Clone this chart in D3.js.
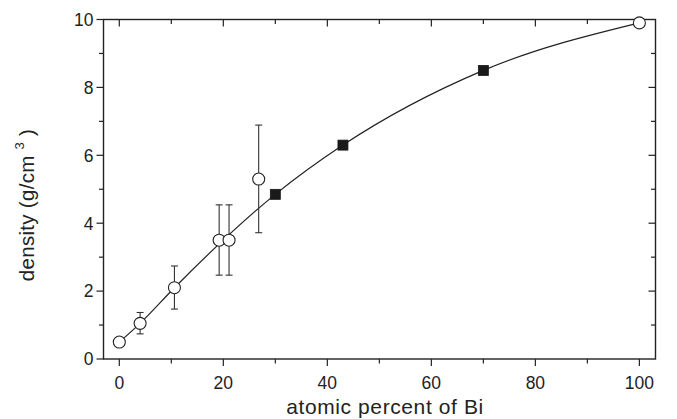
<!DOCTYPE html>
<html>
<head>
<meta charset="utf-8">
<script src="https://cdn.jsdelivr.net/npm/d3@7"></script>
<style>
  html, body { margin: 0; padding: 0; background: #fff; }
  svg { display: block; font-family: "Liberation Sans", Arial, Helvetica, sans-serif; }
</style>
</head>
<body>
<svg id="chart" width="677" height="419"></svg>
<script>
// Measured densities (open circles) with error-bar limits
const openX = [0, 4, 10.6, 19.2, 21.1, 26.8, 100];
const openY = [0.5, 1.05, 2.1, 3.5, 3.5, 5.3, 9.9];
const errLow = [null, 0.74, 1.47, 2.47, 2.47, 3.72, null];
const errHigh = [null, 1.37, 2.74, 4.54, 4.54, 6.89, null];

// Additional compositions (filled squares)
const squareX = [30, 43, 70];
const squareY = [4.85, 6.3, 8.5];

// Points the smooth guide curve passes through
const curveX = [0, 4, 10.6, 30, 43, 70, 100];
const curveY = [0.5, 1.05, 2.1, 4.85, 6.3, 8.5, 9.9];

// Axis ticks
const xMajorTicks = [0, 20, 40, 60, 80, 100];
const xMinorTicks = [10, 30, 50, 70, 90];
const yMajorTicks = [0, 2, 4, 6, 8, 10];
const yMinorTicks = [1, 3, 5, 7, 9];

const xTitle = "atomic percent of Bi";

(function () {
  const svg = d3.select("#chart");
  const pl = 103.5, pr = 655.5, pt = 19.5, pb = 359;

  const x = d3.scaleLinear().domain([-3.04, 103.1]).range([pl, pr]);
  const y = d3.scaleLinear().domain([0, 10]).range([pb, pt]);

  const ink = "#222";
  const majorLen = 7, minorLen = 4.5;

  // Frame
  svg.append("rect")
    .attr("x", pl).attr("y", pt)
    .attr("width", pr - pl).attr("height", pb - pt)
    .attr("fill", "none").attr("stroke", ink).attr("stroke-width", 1.4);

  // Ticks: bottom & left point outward, top & right point inward
  const ticks = svg.append("g").attr("stroke", ink).attr("stroke-width", 1.2);
  function xTick(v, len) {
    ticks.append("line").attr("x1", x(v)).attr("x2", x(v)).attr("y1", pb).attr("y2", pb + len);
    ticks.append("line").attr("x1", x(v)).attr("x2", x(v)).attr("y1", pt).attr("y2", pt + len);
  }
  function yTick(v, len) {
    ticks.append("line").attr("y1", y(v)).attr("y2", y(v)).attr("x1", pl).attr("x2", pl - len);
    ticks.append("line").attr("y1", y(v)).attr("y2", y(v)).attr("x1", pr).attr("x2", pr - len);
  }
  xMajorTicks.forEach(v => xTick(v, majorLen));
  xMinorTicks.forEach(v => xTick(v, minorLen));
  yMajorTicks.filter(v => v > 0 && v < 10).forEach(v => yTick(v, majorLen));
  yMinorTicks.forEach(v => yTick(v, minorLen));
  // y ticks at 0 and 10 sit on the frame corners (left side only)
  [0, 10].forEach(v => ticks.append("line").attr("y1", y(v)).attr("y2", y(v)).attr("x1", pl).attr("x2", pl - majorLen));

  // Tick labels
  const labelSize = 17.5;
  svg.append("g").selectAll("text").data(xMajorTicks).join("text")
    .attr("x", d => x(d)).attr("y", pb + 30)
    .attr("text-anchor", "middle").attr("font-size", labelSize).attr("fill", ink)
    .text(d => d);
  svg.append("g").selectAll("text").data(yMajorTicks).join("text")
    .attr("x", pl - 10).attr("y", d => y(d)).attr("dy", "0.36em")
    .attr("text-anchor", "end").attr("font-size", labelSize).attr("fill", ink)
    .text(d => d);

  // Axis titles
  svg.append("text")
    .attr("x", 385).attr("y", 414)
    .attr("text-anchor", "middle").attr("font-size", 21).attr("letter-spacing", 0.6)
    .attr("fill", ink)
    .text(xTitle);

  const yt = svg.append("text")
    .attr("transform", "translate(34,205) rotate(-90)")
    .attr("text-anchor", "middle").attr("font-size", 20.5).attr("letter-spacing", 0.3)
    .attr("fill", ink);
  yt.append("tspan").text("density (g/cm ");
  yt.append("tspan").attr("font-size", 13).attr("dy", -10).text("3");
  yt.append("tspan").attr("dy", 10).text(" )");

  // Guide curve
  const pts = curveX.map((v, i) => [v, curveY[i]]);
  svg.append("path")
    .attr("d", d3.line().x(d => x(d[0])).y(d => y(d[1])).curve(d3.curveMonotoneX)(pts))
    .attr("fill", "none").attr("stroke", ink).attr("stroke-width", 1.2);

  // Error bars
  const eb = svg.append("g").attr("stroke", "#333").attr("stroke-width", 1.1);
  const cap = 3.5;
  openX.forEach((v, i) => {
    if (errLow[i] == null) return;
    const cx = x(v);
    eb.append("line").attr("x1", cx).attr("x2", cx).attr("y1", y(errLow[i])).attr("y2", y(errHigh[i]));
    eb.append("line").attr("x1", cx - cap).attr("x2", cx + cap).attr("y1", y(errLow[i])).attr("y2", y(errLow[i]));
    eb.append("line").attr("x1", cx - cap).attr("x2", cx + cap).attr("y1", y(errHigh[i])).attr("y2", y(errHigh[i]));
  });

  // Open circles
  svg.append("g").selectAll("circle").data(openX.map((v, i) => [v, openY[i]])).join("circle")
    .attr("cx", d => x(d[0])).attr("cy", d => y(d[1])).attr("r", 6)
    .attr("fill", "#fff").attr("stroke", ink).attr("stroke-width", 1.1);

  // Filled squares
  const sq = 10;
  svg.append("g").selectAll("rect").data(squareX.map((v, i) => [v, squareY[i]])).join("rect")
    .attr("x", d => x(d[0]) - sq / 2).attr("y", d => y(d[1]) - sq / 2)
    .attr("width", sq).attr("height", sq)
    .attr("fill", "#1a1a1a").attr("stroke", "#1a1a1a").attr("stroke-width", 0.8);
})();
</script>
</body>
</html>
